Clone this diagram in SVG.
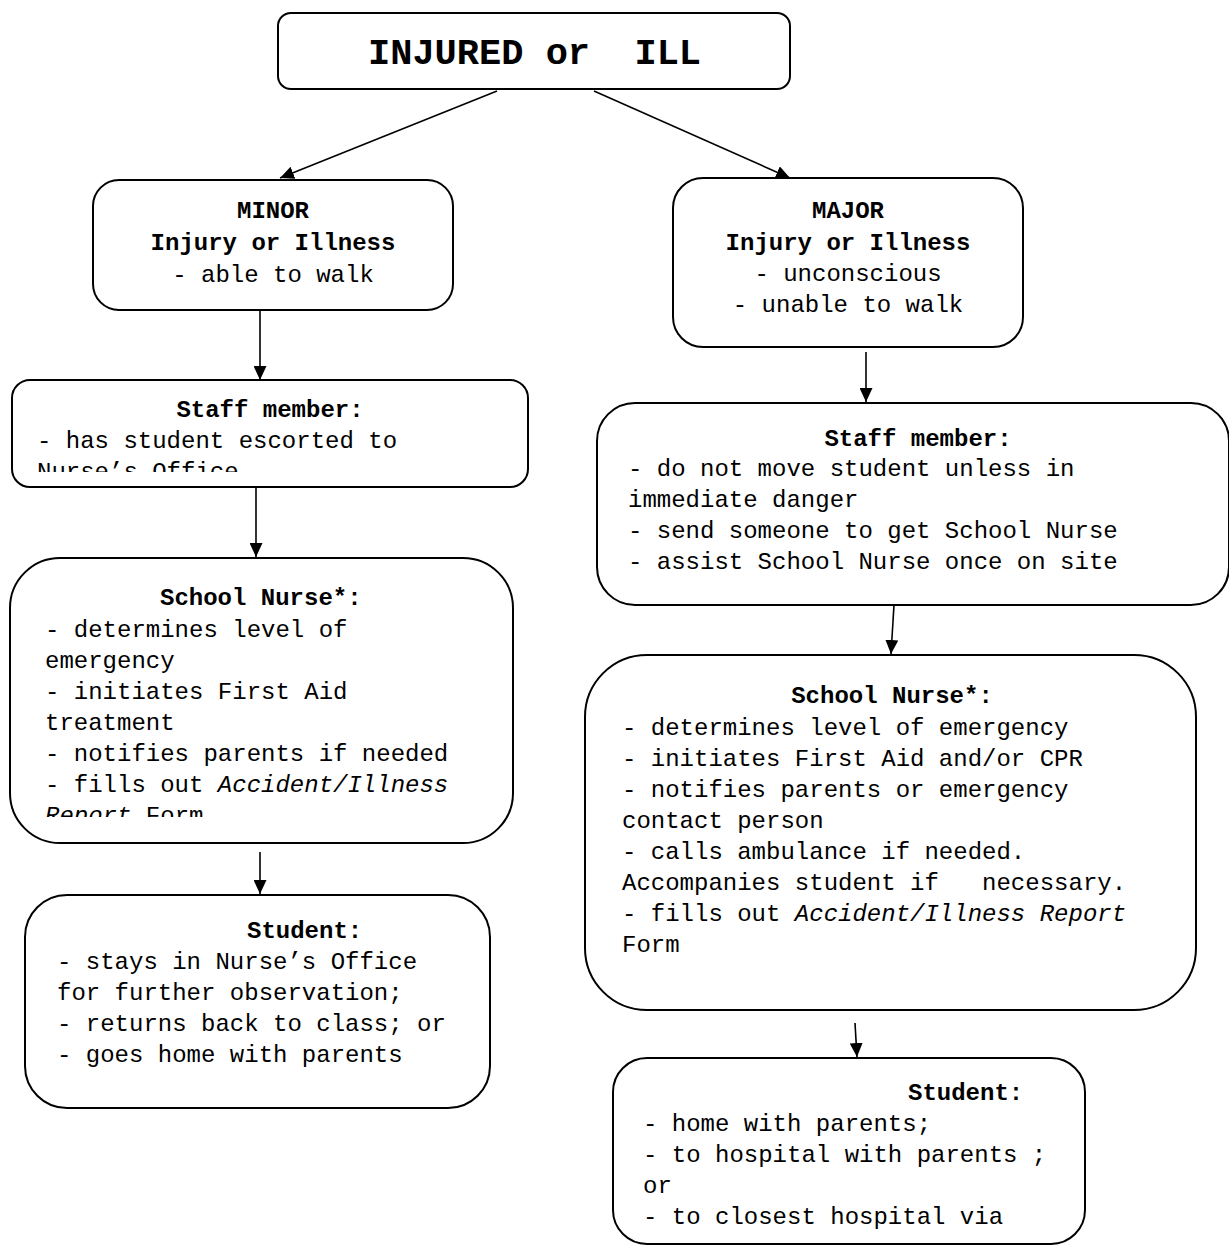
<svg xmlns="http://www.w3.org/2000/svg" width="1229" height="1245" viewBox="0 0 1229 1245">
<style>
.box{fill:#fff;stroke:#000;stroke-width:2}
.t{font-family:"Liberation Mono","Courier New",monospace;font-size:24px;fill:#000;white-space:pre}
.b{font-weight:bold}
.i{font-style:italic}
.title{font-family:"Liberation Mono","Courier New",monospace;font-size:37px;font-weight:bold;fill:#000;white-space:pre}
.c{text-anchor:middle}
.conn line{stroke:#000;stroke-width:1.6;fill:none}
</style>
<defs>
<marker id="ah" markerUnits="userSpaceOnUse" markerWidth="15" markerHeight="13" refX="14" refY="6.5" orient="auto">
<path d="M0,0 L14,6.5 L0,13 z" fill="#000"/>
</marker>
<clipPath id="clipStaffL"><rect x="12" y="380" width="516" height="92"/></clipPath>
<clipPath id="clipNurseL"><rect x="10" y="558" width="503" height="259"/></clipPath>
</defs>

<g id="connectors" class="conn">
<line x1="497" y1="91" x2="280" y2="178" marker-end="url(#ah)"/>
<line x1="594" y1="91" x2="790" y2="178" marker-end="url(#ah)"/>
<line x1="260" y1="310" x2="260" y2="380" marker-end="url(#ah)"/>
<line x1="256" y1="487" x2="256" y2="557" marker-end="url(#ah)"/>
<line x1="260" y1="852" x2="260" y2="894" marker-end="url(#ah)"/>
<line x1="866" y1="352" x2="866" y2="402" marker-end="url(#ah)"/>
<line x1="894" y1="605" x2="891" y2="654" marker-end="url(#ah)"/>
<line x1="855" y1="1023" x2="857" y2="1057" marker-end="url(#ah)"/>
</g>

<g id="node-injured">
<rect class="box" x="278" y="13" width="512" height="76" rx="13"/>
<text class="title" x="368" y="64">INJURED or  ILL</text>
</g>

<g id="node-minor">
<rect class="box" x="93" y="180" width="360" height="130" rx="26"/>
<text class="t b c" x="273" y="218">MINOR</text>
<text class="t b c" x="273" y="250">Injury or Illness</text>
<text class="t c" x="273" y="282">- able to walk</text>
</g>

<g id="node-major">
<rect class="box" x="673" y="178" width="350" height="169" rx="30"/>
<text class="t b c" x="848" y="218">MAJOR</text>
<text class="t b c" x="848" y="250">Injury or Illness</text>
<text class="t c" x="848" y="281">- unconscious</text>
<text class="t c" x="848" y="312">- unable to walk</text>
</g>

<g id="node-staff-left">
<rect class="box" x="12" y="380" width="516" height="107" rx="18"/>
<g clip-path="url(#clipStaffL)">
<text class="t b c" x="270" y="417">Staff member:</text>
<text class="t" x="37" y="448">- has student escorted to</text>
<text class="t" x="37" y="479">Nurse’s Office</text>
</g>
</g>

<g id="node-nurse-left">
<rect class="box" x="10" y="558" width="503" height="285" rx="50"/>
<g clip-path="url(#clipNurseL)">
<text class="t b" x="160" y="605">School Nurse*:</text>
<text class="t" x="45" y="637">- determines level of</text>
<text class="t" x="45" y="668">emergency</text>
<text class="t" x="45" y="699">- initiates First Aid</text>
<text class="t" x="45" y="730">treatment</text>
<text class="t" x="45" y="761">- notifies parents if needed</text>
<text class="t" x="45" y="792">- fills out <tspan class="i">Accident/Illness</tspan></text>
<text class="t" x="45" y="823"><tspan class="i">Report</tspan> Form</text>
</g>
</g>

<g id="node-student-left">
<rect class="box" x="25" y="895" width="465" height="213" rx="42"/>
<text class="t b" x="247" y="938">Student:</text>
<text class="t" x="57" y="969">- stays in Nurse’s Office</text>
<text class="t" x="57" y="1000">for further observation;</text>
<text class="t" x="57" y="1031">- returns back to class; or</text>
<text class="t" x="57" y="1062">- goes home with parents</text>
</g>

<g id="node-staff-right">
<rect class="box" x="597" y="403" width="632" height="202" rx="38"/>
<text class="t b c" x="918" y="446">Staff member:</text>
<text class="t" x="628" y="476">- do not move student unless in</text>
<text class="t" x="628" y="507">immediate danger</text>
<text class="t" x="628" y="538">- send someone to get School Nurse</text>
<text class="t" x="628" y="569">- assist School Nurse once on site</text>
</g>

<g id="node-nurse-right">
<rect class="box" x="585" y="655" width="611" height="355" rx="62"/>
<text class="t b c" x="892" y="703">School Nurse*:</text>
<text class="t" x="622" y="735">- determines level of emergency</text>
<text class="t" x="622" y="766">- initiates First Aid and/or CPR</text>
<text class="t" x="622" y="797">- notifies parents or emergency</text>
<text class="t" x="622" y="828">contact person</text>
<text class="t" x="622" y="859">- calls ambulance if needed.</text>
<text class="t" x="622" y="890">Accompanies student if   necessary.</text>
<text class="t" x="622" y="921">- fills out <tspan class="i">Accident/Illness Report</tspan></text>
<text class="t" x="622" y="952">Form</text>
</g>

<g id="node-student-right">
<rect class="box" x="613" y="1058" width="472" height="186" rx="34"/>
<text class="t b" x="908" y="1100">Student:</text>
<text class="t" x="643" y="1131">- home with parents;</text>
<text class="t" x="643" y="1162">- to hospital with parents ;</text>
<text class="t" x="643" y="1193">or</text>
<text class="t" x="643" y="1224">- to closest hospital via</text>
</g>
</svg>
